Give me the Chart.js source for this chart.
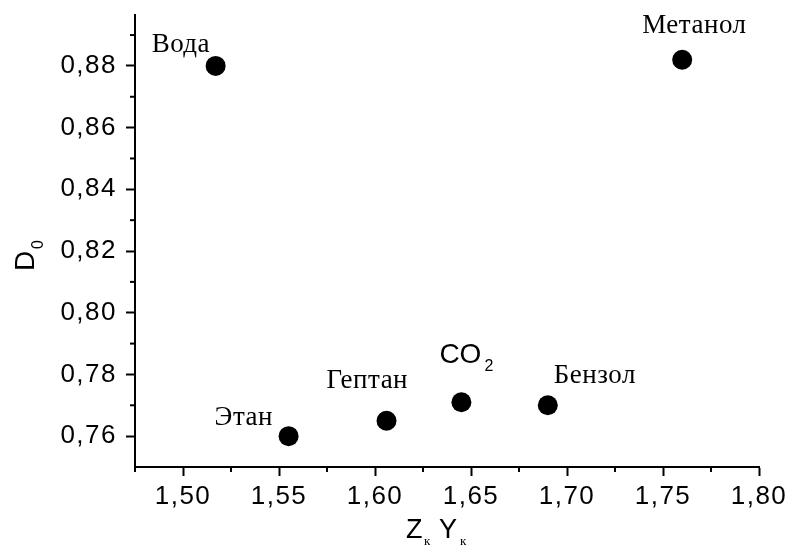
<!DOCTYPE html>
<html>
<head>
<meta charset="utf-8">
<script src="https://cdn.jsdelivr.net/npm/chart.js@4"></script>
<style>
html, body { margin: 0; padding: 0; background: #fff; }
</style>
</head>
<body>
<canvas id="myChart" width="789" height="547"></canvas>
<script>
// substances and their values
var names = ["Вода", "Этан", "Гептан", "CO2", "Бензол", "Метанол"];
var zy = [1.517, 1.555, 1.606, 1.645, 1.690, 1.760];
var d0 = [0.880, 0.760, 0.765, 0.771, 0.770, 0.882];

// axis ranges and tick steps
var xMin = 1.475, xMax = 1.80, xStep = 0.05;
var yMin = 0.75, yMax = 0.8965, yStep = 0.02;
var xMinor = [1.475, 1.525, 1.575, 1.625, 1.675, 1.725, 1.775];
var yMinor = [0.77, 0.79, 0.81, 0.83, 0.85, 0.87, 0.89];

// where each name sits next to its point (left edge, baseline)
var labelOffsets = [[-64, -14], [-74, -11], [-60, -33], [-22, -39], [6, -22], [-40, -27]];

var SANS = "'Liberation Sans', Arial, sans-serif";
var SERIF = "'Liberation Serif', 'Times New Roman', serif";

function comma(v) {
  return v.toFixed(2).replace(".", ",");
}

var points = [];
for (var i = 0; i < names.length; i++) {
  points.push({x: zy[i], y: d0[i]});
}

var extras = {
  id: "extras",
  beforeUpdate: function(chart) { chart.ctx.letterSpacing = "1.5px"; },
  beforeDraw: function(chart) { chart.ctx.letterSpacing = "1.5px"; },
  afterDraw: function(chart) {
    var ctx = chart.ctx;
    var xs = chart.scales.x, ys = chart.scales.y, area = chart.chartArea;
    ctx.save();
    ctx.letterSpacing = "0px";
    ctx.strokeStyle = "#000";
    ctx.lineWidth = 2;
    // minor ticks
    xMinor.forEach(function(v) {
      var px = xs.getPixelForValue(v);
      ctx.beginPath(); ctx.moveTo(px, area.bottom); ctx.lineTo(px, area.bottom + 5); ctx.stroke();
    });
    yMinor.forEach(function(v) {
      var py = ys.getPixelForValue(v);
      ctx.beginPath(); ctx.moveTo(area.left, py); ctx.lineTo(area.left - 5, py); ctx.stroke();
    });

    // point names
    ctx.fillStyle = "#000";
    ctx.textAlign = "left";
    ctx.textBaseline = "alphabetic";
    for (var i = 0; i < names.length; i++) {
      var px = xs.getPixelForValue(zy[i]) + labelOffsets[i][0];
      var py = ys.getPixelForValue(d0[i]) + labelOffsets[i][1];
      if (names[i] == "CO2") {
        ctx.font = "28px " + SANS;
        ctx.letterSpacing = "0px";
        ctx.fillText("CO", px, py);
        var w = ctx.measureText("CO").width;
        ctx.font = "16px " + SANS;
        ctx.fillText("2", px + w + 3, py + 8);
      } else {
        ctx.font = "27px " + SERIF;
        ctx.letterSpacing = "0.5px";
        ctx.fillText(names[i], px, py);
      }
    }
    ctx.letterSpacing = "0px";

    // y title: D with subscript 0
    ctx.save();
    ctx.translate(area.left - 101, area.top + 256);
    ctx.rotate(-Math.PI / 2);
    ctx.font = "28px " + SANS;
    ctx.fillText("D", 0, 0);
    ctx.font = "16px " + SANS;
    ctx.fillText("0", 22, 9);
    ctx.restore();

    // x title: Zк Yк
    var bx = area.left + 271, by = area.bottom + 71;
    ctx.font = "27px " + SANS;
    ctx.fillText("Z", bx, by);
    ctx.font = "13px " + SERIF;
    ctx.fillText("к", bx + 18, by + 7);
    ctx.font = "27px " + SANS;
    ctx.fillText("Y", bx + 33, by);
    ctx.font = "13px " + SERIF;
    ctx.fillText("к", bx + 54, by + 7);
    ctx.restore();
  }
};

var ctx = document.getElementById("myChart");
var myChart = new Chart(ctx, {
  type: "scatter",
  data: {
    datasets: [{
      data: points,
      backgroundColor: "#000",
      borderColor: "#000",
      borderWidth: 0,
      pointRadius: 10,
      pointHoverRadius: 10
    }]
  },
  options: {
    responsive: false,
    animation: false,
    devicePixelRatio: 1,
    layout: {padding: {top: 15, right: 30, left: 0, bottom: 0}},
    plugins: {legend: {display: false}, tooltip: {enabled: false}},
    scales: {
      x: {
        type: "linear",
        min: xMin,
        max: xMax,
        afterFit: function(scale) {
          scale.height = 80;
          scale.paddingLeft = 0;
          scale.paddingRight = 0;
        },
        border: {display: true, color: "#000", width: 2},
        grid: {drawOnChartArea: false, drawTicks: true, tickLength: 9, tickColor: "#000", tickWidth: 2},
        ticks: {
          stepSize: xStep,
          includeBounds: false,
          autoSkip: false,
          maxRotation: 0,
          padding: 5,
          color: "#000",
          font: {family: SANS, size: 26},
          callback: function(v) { return comma(v); }
        }
      },
      y: {
        type: "linear",
        min: yMin,
        max: yMax,
        afterFit: function(scale) {
          scale.width = 135;
          scale.paddingTop = 0;
          scale.paddingBottom = 0;
        },
        border: {display: true, color: "#000", width: 2},
        grid: {drawOnChartArea: false, drawTicks: true, tickLength: 9, tickColor: "#000", tickWidth: 2},
        ticks: {
          stepSize: yStep,
          includeBounds: false,
          autoSkip: false,
          padding: 9,
          color: "#000",
          font: {family: SANS, size: 26},
          callback: function(v) { return comma(v); }
        }
      }
    }
  },
  plugins: [extras]
});
</script>
</body>
</html>
